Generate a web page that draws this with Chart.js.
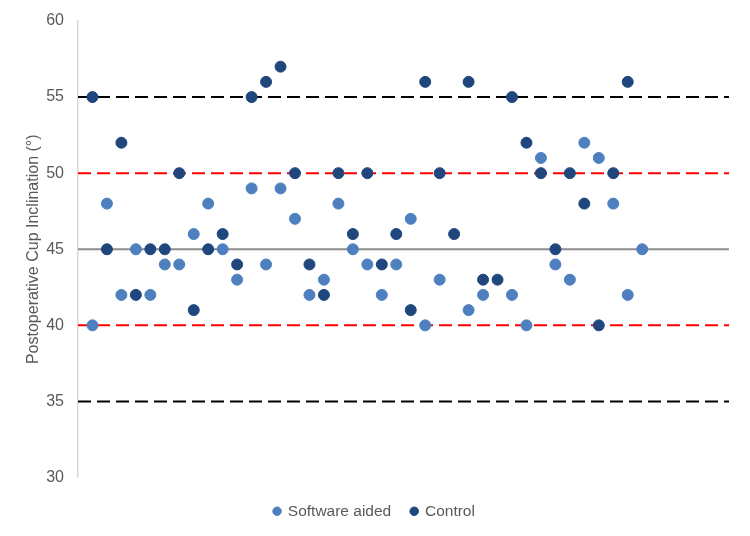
<!DOCTYPE html>
<html>
<head>
<meta charset="utf-8">
<script src="https://cdn.jsdelivr.net/npm/chart.js@4/dist/chart.umd.min.js"></script>
<style>
  html, body { margin: 0; padding: 0; background: #ffffff; }
  #wrap { width: 750px; height: 536px; position: relative; }
</style>
</head>
<body>
<div id="wrap"><canvas id="c" width="750" height="536"></canvas></div>
<script>
// Case numbers (x positions)
const caseNumbers = [1,2,3,4,5,6,7,8,9,10,11,12,13,14,15,16,17,18,19,20,21,22,23,24,25,26,27,28,29,30,31,32,33,34,35,36,37,38,39];
// Postoperative cup inclination (degrees)
const softwareAided = [40,48,42,45,42,44,44,46,48,45,43,49,44,49,47,42,43,48,45,44,42,44,47,40,43,null,41,42,null,42,40,51,44,43,52,51,48,42,45];
const control = [55,45,52,42,45,45,50,41,45,46,44,55,56,57,50,44,42,50,46,50,44,46,41,56,50,46,56,43,43,55,52,50,45,50,48,40,50,56,null];
// Reference levels
const outerLimits = [35, 55];
const innerLimits = [40, 50];
const targetLevel = 45;
const xRange = [0, 45];
const yTicks = [30, 35, 40, 45, 50, 55, 60];

const toPoints = (vals) => caseNumbers.map((x, i) => ({ x: x, y: vals[i] })).filter(p => p.y !== null);
const hLine = (y) => [{ x: xRange[0], y: y }, { x: xRange[1], y: y }];

const FONT = "'Liberation Sans', Arial, sans-serif";
const TXT = '#595959';

const refDatasets = [];
outerLimits.forEach(v => refDatasets.push({
  type: 'line', label: '_ref', data: hLine(v), borderColor: '#000000', borderWidth: 2,
  borderDash: [13, 6], pointRadius: 0, fill: false, order: 10
}));
innerLimits.forEach(v => refDatasets.push({
  type: 'line', label: '_ref', data: hLine(v), borderColor: '#ff0000', borderWidth: 2,
  borderDash: [13, 6], pointRadius: 0, fill: false, order: 10
}));
refDatasets.push({
  type: 'line', label: '_ref', data: hLine(targetLevel), borderColor: '#8c8c8c', borderWidth: 2,
  pointRadius: 0, fill: false, order: 10
});

new Chart(document.getElementById('c'), {
  type: 'scatter',
  data: {
    datasets: [
      { label: 'Software aided', data: toPoints(softwareAided), backgroundColor: '#4e80bf', borderColor: '#4e80bf',
        pointRadius: 5.5, pointHoverRadius: 5.5, pointStyle: 'circle', order: 2 },
      { label: 'Control', data: toPoints(control), backgroundColor: '#1f477e', borderColor: '#1f477e',
        pointRadius: 5.5, pointHoverRadius: 5.5, pointStyle: 'circle', order: 1 },
      ...refDatasets
    ]
  },
  options: {
    responsive: false,
    animation: false,
    devicePixelRatio: 1,
    layout: { padding: { left: 20, right: 21, top: 21, bottom: 7 } },
    plugins: {
      tooltip: { enabled: false },
      legend: {
        position: 'bottom',
        labels: {
          filter: (item) => item.text !== '_ref',
          sort: (a, b) => a.datasetIndex - b.datasetIndex,
          usePointStyle: true,
          boxWidth: 6,
          boxHeight: 6,
          padding: 20,
          color: TXT,
          font: { family: FONT, size: 15.5 }
        }
      }
    },
    scales: {
      x: {
        type: 'linear', min: xRange[0], max: xRange[1], display: true,
        grid: { display: false, drawTicks: true, tickLength: 6 },
        border: { display: false },
        ticks: { display: false }
      },
      y: {
        type: 'linear', min: 30, max: 60,
        afterBuildTicks: (axis) => { axis.ticks = yTicks.map(v => ({ value: v })); },
        afterFit: (axis) => { axis.width = 58; axis.paddingTop = 0; axis.paddingBottom = 0; },
        grid: { display: false, drawTicks: false },
        border: { display: true, color: '#d9d9d9', width: 1.5 },
        ticks: { color: TXT, font: { family: FONT, size: 16 }, padding: 14 },
        title: {
          display: true, text: 'Postoperative Cup Inclination (°)', color: TXT,
          font: { family: FONT, size: 16 }, padding: { top: 4, bottom: 4 }
        }
      }
    }
  }
});
</script>
</body>
</html>
